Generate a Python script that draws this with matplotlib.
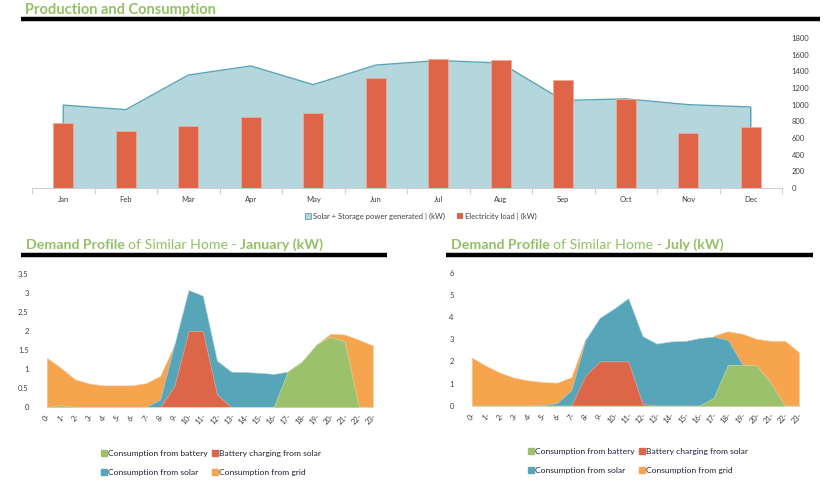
import matplotlib
matplotlib.use("Agg")
import matplotlib.pyplot as plt
from matplotlib.patches import Patch

plt.rcParams['font.family'] = ['Lato', 'DejaVu Sans']

months = ["Jan", "Feb", "Mar", "Apr", "May", "Jun", "Jul", "Aug", "Sep", "Oct", "Nov", "Dec"]
generated = [995, 940, 1355, 1465, 1240, 1475, 1530, 1500, 1050, 1070, 1000, 972]
load = [780, 688, 748, 852, 900, 1320, 1548, 1536, 1300, 1068, 664, 736]

hours = list(range(24))
hour_labels = [f"{h}-" for h in hours]

jan_battery = [0, 0.05, 0, 0, 0, 0, 0, 0, 0, 0, 0, 0, 0, 0, 0, 0, 0, 0.94, 1.2, 1.64, 1.85, 1.73, 0, 0]
jan_charging = [0, 0, 0, 0, 0, 0, 0, 0, 0, 0.55, 2.0, 2.0, 0.33, 0, 0, 0, 0, 0, 0, 0, 0, 0, 0, 0]
jan_solar = [0, 0, 0, 0, 0, 0, 0, 0, 0.2, 1.64, 3.08, 2.93, 1.22, 0.93, 0.92, 0.9, 0.87, 0.93, 0, 0, 0, 0, 0, 0]
jan_grid = [1.3, 1.03, 0.73, 0.62, 0.57, 0.57, 0.57, 0.63, 0.82, 1.64, 0, 0, 0, 0, 0, 0, 0, 0.94, 1.2, 1.64, 1.93, 1.91, 1.77, 1.62]

jul_battery = [0, 0, 0, 0, 0, 0, 0, 0, 0, 0, 0, 0, 0, 0, 0, 0, 0, 0.35, 1.84, 1.85, 1.82, 1.05, 0, 0]
jul_charging = [0, 0, 0, 0, 0, 0, 0, 0, 1.37, 2.0, 2.0, 2.0, 0.08, 0, 0, 0, 0, 0, 0, 0, 0, 0, 0, 0]
jul_solar = [0, 0, 0, 0, 0, 0.03, 0.12, 0.7, 2.98, 3.97, 4.38, 4.85, 3.14, 2.8, 2.9, 2.92, 3.05, 3.12, 2.97, 1.88, 0, 0, 0, 0]
jul_grid = [2.18, 1.8, 1.49, 1.26, 1.14, 1.07, 1.04, 1.29, 3.05, 0, 0, 0, 0, 0, 0, 0, 0, 3.16, 3.36, 3.25, 3.02, 2.93, 2.93, 2.41]

green_title = "#93c064"
c_battery = "#9bc16c"
c_charging = "#dd6548"
c_solar = "#57a5b8"
c_grid = "#f6a44e"
txt = "#404040"

fig = plt.figure(figsize=(8.32, 4.99), dpi=100)
W, H = 832, 499


def fx(px):
    return px / W


def fy(py):
    return 1 - py / H


def header_line(x0, x1, y):
    fig.add_artist(plt.Line2D([fx(x0), fx(x1)], [fy(y), fy(y)], color="black", lw=3.2,
                              transform=fig.transFigure, solid_capstyle="butt"))


# --- top chart ---
fig.text(fx(25), fy(14), "Production and Consumption", fontsize=10.5, fontweight="bold",
         color=green_title, va="baseline", ha="left")
header_line(21, 820, 19)

ax = fig.add_axes([fx(32), fy(188), fx(782 - 32), (188 - 38) / H])
x = list(range(len(months)))
ax.fill_between(x, generated, 0, color="#b4d7dd", lw=0, zorder=1)
ax.plot([0] + x + [11], [0] + generated + [0], color="#5aa6b5", lw=1.0, zorder=2)
ax.bar(x, load, width=0.32, color="#df6549", edgecolor="#f2a896", lw=0.6, zorder=3)
ax.set_xlim(-0.5, 11.5)
ax.set_ylim(0, 1800)
ax.set_xticks(x)
ax.set_xticklabels(months, fontsize=5.5, color=txt)
ax.set_xticks([i - 0.5 for i in range(13)], minor=True)
ax.tick_params(axis="x", which="major", length=0, pad=6)
ax.tick_params(axis="x", which="minor", length=4, color="#d0d0d0", width=0.8)
ax.yaxis.tick_right()
ax.set_yticks(range(0, 1801, 200))
ax.tick_params(axis="y", length=0, labelsize=5.5, labelcolor=txt, pad=7)
for s in ["top", "left", "right"]:
    ax.spines[s].set_visible(False)
ax.spines["bottom"].set_color("#d0d0d0")
ax.spines["bottom"].set_linewidth(0.8)

fig.legend(handles=[Patch(facecolor="#b4d7dd", edgecolor="#5aa6b5", lw=0.6,
                          label="Solar + Storage power generated | (kW)"),
                    Patch(facecolor="#df6549", label="Electricity load | (kW)")],
           loc="center", bbox_to_anchor=(fx(421), fy(216)), ncol=2, frameon=False,
           fontsize=5.5, handlelength=0.7, handleheight=0.7, handletextpad=0.3,
           columnspacing=1.6, labelcolor=txt)


# --- demand profiles ---
def demand(left_px, right_px, bottom_px, top_px, ymax, ystep, battery, charging, solar, grid,
           month, title_x, line_x0, line_x1, legend_x, legend_y):
    base = fy(249)
    t1 = fig.text(fx(title_x), base, "Demand Profile", fontsize=10.2, fontweight="bold",
                  color=green_title, va="baseline", ha="left")
    fig.canvas.draw()
    bb = t1.get_window_extent()
    t2 = fig.text(bb.x1 / W + fx(3), base, "of Similar Home -", fontsize=10.2,
                  color=green_title, va="baseline", ha="left")
    bb2 = t2.get_window_extent()
    fig.text(bb2.x1 / W + fx(3), base, f"{month} (kW)", fontsize=10.2, fontweight="bold",
             color=green_title, va="baseline", ha="left")
    header_line(line_x0, line_x1, 255)

    a = fig.add_axes([fx(left_px), fy(bottom_px), fx(right_px - left_px), (bottom_px - top_px) / H])
    a.fill_between(hours, grid, 0, color=c_grid, lw=0.4, edgecolor="#fbd0a8", zorder=1)
    a.fill_between(hours, solar, 0, color=c_solar, lw=0.4, edgecolor="#a9d2dc", zorder=2)
    a.fill_between(hours, charging, 0, color=c_charging, lw=0.4, edgecolor="#eeb0a0", zorder=3)
    a.fill_between(hours, battery, 0, color=c_battery, lw=0.4, edgecolor="#cde0b4", zorder=4)
    a.set_xlim(0, 23)
    a.set_ylim(0, ymax)
    a.set_xticks(hours)
    a.set_xticklabels(hour_labels, rotation=45, ha="right", va="top", fontsize=5.5,
                      color=txt, rotation_mode="anchor")
    ticks = []
    v = 0.0
    while v <= ymax + 1e-9:
        ticks.append(v)
        v += ystep
    a.set_yticks(ticks)
    a.set_yticklabels([f"{t:g}" for t in ticks], fontsize=5.5, color=txt)
    a.tick_params(axis="both", length=0)
    a.tick_params(axis="y", pad=13)
    a.tick_params(axis="x", pad=4)
    for s in a.spines.values():
        s.set_visible(False)

    handles = [Patch(color=c_battery, label="Consumption from battery"),
               Patch(color=c_solar, label="Consumption from solar"),
               Patch(color=c_charging, label="Battery charging from solar"),
               Patch(color=c_grid, label="Consumption from grid")]
    fig.legend(handles=handles, loc="upper left", bbox_to_anchor=(fx(legend_x), fy(legend_y)),
               ncol=2, frameon=False, fontsize=6.1, handlelength=0.65, handleheight=0.65,
               handletextpad=0.2, columnspacing=0.5, labelspacing=1.45, borderaxespad=0,
               borderpad=0, labelcolor="#1f1f3a")
    return a


demand(46.7, 373, 407, 274, 3.5, 0.5, jan_battery, jan_charging, jan_solar, jan_grid,
       "January", 26, 21, 387, 101, 450)
demand(471.7, 799, 405.7, 272.7, 6, 1, jul_battery, jul_charging, jul_solar, jul_grid,
       "July", 451, 446, 813, 528, 448)

fig.savefig("out.png", dpi=100)
